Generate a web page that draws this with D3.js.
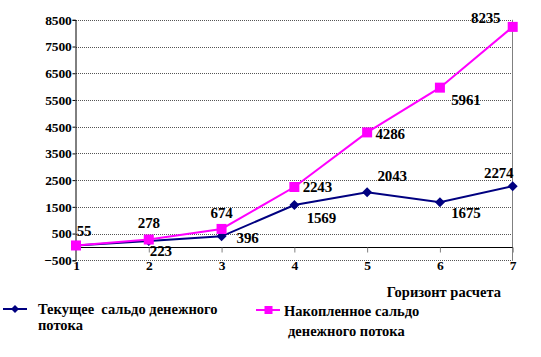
<!DOCTYPE html>
<html><head><meta charset="utf-8">
<script src="https://cdn.jsdelivr.net/npm/d3@7"></script>
<style>
html,body{margin:0;padding:0;background:#fff;}
svg text{font-family:"Liberation Serif","Times New Roman",serif !important;font-weight:bold;fill:#000;}
</style></head>
<body>
<svg id="c" width="541" height="357"></svg>
<script>
const categories = ["1","2","3","4","5","6","7"];
const currentBalance = [55, 223, 396, 1569, 2043, 1675, 2274];
const cumulativeBalance = [55, 278, 674, 2243, 4286, 5961, 8235];
const yTicks = [-500, 500, 1500, 2500, 3500, 4500, 5500, 6500, 7500, 8500];
const xAxisTitle = "Горизонт расчета";
// label placement (offsets from the point, in px), like manual label positions in the source chart
const currentLabelOffsets = [null, [12,10], [26,1], [27,13], [25,-17], [26,11], [-14,-13]];
const cumulativeLabelOffsets = [[8,-15], [0,-17], [0,-16], [23,0], [23,1], [26,12], [-27,-9]];

const svg = d3.select("#c");
const x = d3.scalePoint().domain(categories).range([76, 512.7]);
const y = d3.scaleLinear().domain([-500, 8500]).range([260.3, 19.8]);

const g = svg.append("g");

// gridlines
g.selectAll("line.grid").data(yTicks).join("line")
  .attr("x1", 76).attr("x2", 512.7)
  .attr("y1", d => Math.round(y(d)) + 0.5).attr("y2", d => Math.round(y(d)) + 0.5)
  .attr("stroke", "#555").attr("stroke-width", 1).attr("stroke-dasharray", "1,1");
// right border
g.append("line").attr("x1", 512.5).attr("x2", 512.5).attr("y1", y(8500)).attr("y2", y(-500))
  .attr("stroke", "#808080");

// y axis
const yAxis = d3.axisLeft(y).tickValues(yTicks).tickSize(3).tickPadding(3).tickFormat(d3.format("d"));
const yg = g.append("g").attr("transform", "translate(75.5,0)").call(yAxis);
yg.select(".domain").attr("stroke", "#000");
yg.selectAll(".tick line").attr("stroke", "#000");
yg.selectAll("text").attr("font-size", 13.5).attr("letter-spacing", "-0.2").attr("dx", "2");

// x axis at zero
const xAxis = d3.axisBottom(x).tickSize(5).tickPadding(10);
const xg = g.append("g").attr("transform", `translate(0,${Math.round(y(0)) + 0.5})`).call(xAxis);
xg.select(".domain").attr("stroke", "#000").attr("d", `M76,0H512.7`);
xg.selectAll(".tick line").attr("stroke", "#808080");
xg.selectAll("text").attr("font-size", 13.5).attr("y", 13).attr("dy", "0.71em");

// lines
const line = d3.line().x((d, i) => x(categories[i])).y(d => y(d));
g.append("path").datum(currentBalance).attr("d", line).attr("fill", "none")
  .attr("stroke", "#000080").attr("stroke-width", 2);
g.append("path").datum(cumulativeBalance).attr("d", line).attr("fill", "none")
  .attr("stroke", "#ff00ff").attr("stroke-width", 2);

// markers
g.selectAll("path.dia").data(currentBalance).join("path")
  .attr("transform", (d, i) => `translate(${x(categories[i])},${y(d)})`)
  .attr("d", "M0,-5L5,0L0,5L-5,0Z").attr("fill", "#000080");
g.selectAll("rect.sq").data(cumulativeBalance).join("rect")
  .attr("x", (d, i) => x(categories[i]) - 5).attr("y", d => y(d) - 5)
  .attr("width", 10).attr("height", 10).attr("fill", "#ff00ff");

// data labels
function labels(data, offs) {
  g.selectAll(null).data(data.map((v, i) => ({v, i, o: offs[i]})).filter(d => d.o)).join("text")
    .attr("x", d => x(categories[d.i]) + d.o[0]).attr("y", d => y(d.v) + d.o[1])
    .attr("text-anchor", "middle").attr("dy", "0.35em")
    .attr("font-size", 15).attr("letter-spacing", "-0.2")
    .text(d => d.v);
}
labels(currentBalance, currentLabelOffsets);
labels(cumulativeBalance, cumulativeLabelOffsets);

// axis title
svg.append("text").attr("x", 501).attr("y", 292).attr("dy", "0.35em").attr("text-anchor", "end")
  .attr("font-size", 14.5).text(xAxisTitle);

// legend
const lg = svg.append("g");
lg.append("line").attr("x1", 3).attr("x2", 27).attr("y1", 309).attr("y2", 309).attr("stroke", "#000080").attr("stroke-width", 2);
lg.append("path").attr("transform", "translate(15,309)").attr("d", "M0,-4L4,0L0,4L-4,0Z").attr("fill", "#000080");
const t1 = lg.append("text").attr("x", 38).attr("y", 309).attr("dy", "0.35em").attr("font-size", 14.5)
  .attr("style", "white-space:pre");
t1.append("tspan").attr("x", 38).text("Текущее  сальдо денежного");
t1.append("tspan").attr("x", 38).attr("dy", 16).text("потока");

lg.append("line").attr("x1", 256).attr("x2", 280).attr("y1", 310).attr("y2", 310).attr("stroke", "#ff00ff").attr("stroke-width", 2);
lg.append("rect").attr("x", 264.5).attr("y", 306).attr("width", 8).attr("height", 8).attr("fill", "#ff00ff");
const t2 = lg.append("text").attr("x", 284).attr("y", 311).attr("dy", "0.35em").attr("font-size", 14.5);
t2.append("tspan").attr("x", 284).text("Накопленное сальдо");
t2.append("tspan").attr("x", 288).attr("dy", 19.5).text("денежного потока");
</script>
</body></html>
